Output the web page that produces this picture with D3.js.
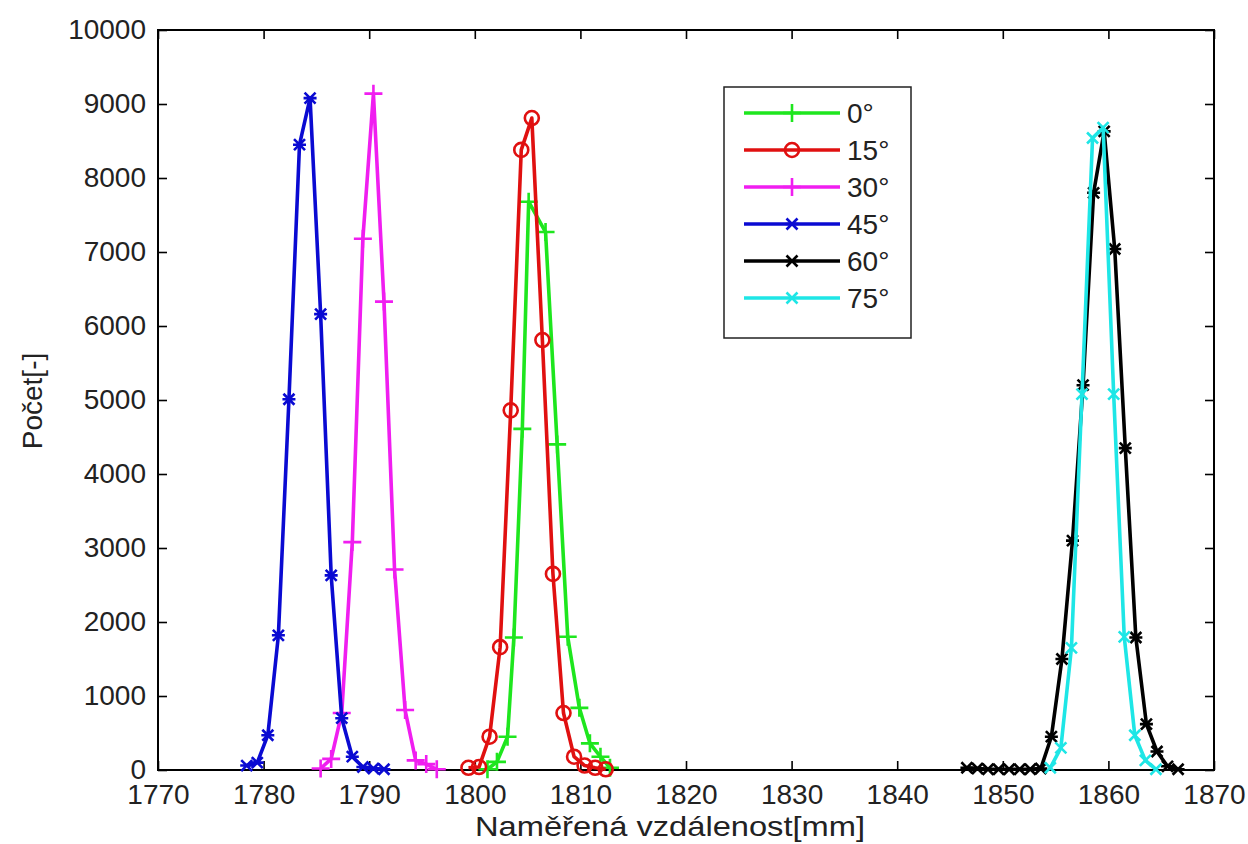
<!DOCTYPE html>
<html><head><meta charset="utf-8">
<script src="https://cdn.jsdelivr.net/npm/d3@7"></script>
<style>
html,body{margin:0;padding:0;background:#fff;}
svg{display:block;font-family:"Liberation Sans",Arial,sans-serif;}
</style></head>
<body><svg id="c" width="1248" height="844"></svg>
<script>
// ---------- data ----------
const seriesNames = ["0°","15°","30°","45°","60°","75°"];
const seriesColors = ["#1ee61e","#e01010","#f01ef0","#0a0ad2","#000000","#1ee6e6"];
const seriesMarkers = ["plus","circle","plus","star","star","x"];

const x0 = [1801.2,1802.1,1803.1,1803.7,1804.5,1805.1,1806.7,1807.8,1808.8,1809.9,1810.9,1811.9,1812.8];
const y0 = [10,110,450,1790,4610,7680,7270,4400,1800,840,360,180,30];

const x15 = [1799.4,1800.4,1801.4,1802.4,1803.4,1804.4,1805.4,1806.4,1807.4,1808.4,1809.4,1810.4,1811.4,1812.4];
const y15 = [30,40,450,1660,4860,8380,8810,5810,2650,770,180,60,30,10];

const x30 = [1785.4,1786.4,1787.4,1788.4,1789.4,1790.4,1791.4,1792.4,1793.4,1794.4,1795.4,1796.4];
const y30 = [20,150,770,3080,7180,9140,6330,2710,810,130,80,10];

const x45 = [1778.4,1779.4,1780.4,1781.4,1782.4,1783.4,1784.4,1785.4,1786.4,1787.4,1788.4,1789.4,1790.4,1791.4];
const y45 = [60,100,470,1820,5010,8450,9080,6160,2630,700,180,40,20,10];

const x60 = [1846.6,1847.6,1848.6,1849.6,1850.6,1851.6,1852.6,1853.6,1854.6,1855.6,1856.6,1857.6,1858.6,1859.6,1860.6,1861.6,1862.6,1863.6,1864.6,1865.6,1866.6];
const y60 = [30,20,10,10,10,10,10,20,450,1500,3100,5200,7800,8630,7040,4350,1790,620,250,50,10];

const x75 = [1854.5,1855.5,1856.5,1857.5,1858.5,1859.5,1860.5,1861.5,1862.5,1863.5,1864.5];
const y75 = [30,300,1650,5080,8540,8680,5080,1800,470,130,10];

const xTicks = [1770,1780,1790,1800,1810,1820,1830,1840,1850,1860,1870];
const yTicks = [0,1000,2000,3000,4000,5000,6000,7000,8000,9000,10000];
const xLabel = "Naměřená vzdálenost[mm]";
const yLabel = "Počet[-]";

const seriesX = [x0,x15,x30,x45,x60,x75];
const seriesY = [y0,y15,y30,y45,y60,y75];

// ---------- layout ----------
const L=158, R=1214, T=30, B=770;
const svg = d3.select("#c");
const x = d3.scaleLinear().domain([1770,1870]).range([L,R]);
const y = d3.scaleLinear().domain([0,10000]).range([B,T]);
const FS = 28;

svg.append("rect").attr("x",0).attr("y",0).attr("width",1248).attr("height",844).attr("fill","#fff");

// axes
function styleAxis(g, showText){
  g.select(".domain").remove();
  g.selectAll(".tick line").attr("stroke","#000").attr("stroke-width",1.6);
  g.selectAll("text").attr("font-size",FS).attr("fill","#222").attr("font-family","Liberation Sans, Arial, sans-serif");
  if(!showText) g.selectAll("text").remove();
}
svg.append("g").attr("transform",`translate(0,${B})`)
  .call(d3.axisBottom(x).tickValues(xTicks).tickFormat(d3.format("d")).tickSizeInner(-9).tickSizeOuter(0).tickPadding(14))
  .call(g=>styleAxis(g,true));
svg.append("g").attr("transform",`translate(0,${T})`)
  .call(d3.axisTop(x).tickValues(xTicks).tickSizeInner(-9).tickSizeOuter(0))
  .call(g=>styleAxis(g,false));
svg.append("g").attr("transform",`translate(${L},0)`)
  .call(d3.axisLeft(y).tickValues(yTicks).tickFormat(d3.format("d")).tickSizeInner(-9).tickSizeOuter(0).tickPadding(12))
  .call(g=>styleAxis(g,true));
svg.append("g").attr("transform",`translate(${R},0)`)
  .call(d3.axisRight(y).tickValues(yTicks).tickSizeInner(-9).tickSizeOuter(0))
  .call(g=>styleAxis(g,false));

// frame
svg.append("rect").attr("x",L).attr("y",T).attr("width",R-L).attr("height",B-T)
  .attr("fill","none").attr("stroke","#000").attr("stroke-width",2);

// axis labels
svg.append("text").attr("x",670).attr("y",836).attr("text-anchor","middle")
  .attr("font-size",FS).attr("fill","#222")
  .attr("textLength",390).attr("lengthAdjust","spacingAndGlyphs").text(xLabel);
svg.append("text").attr("transform","translate(42,401) rotate(-90)").attr("text-anchor","middle")
  .attr("font-size",FS).attr("fill","#222").text(yLabel);

// marker drawing
function drawMarker(g, type, cx, cy, color){
  const sw = 2.6;
  if(type==="plus"){
    const s=9;
    g.append("path").attr("d",`M${cx-s},${cy}H${cx+s}M${cx},${cy-s}V${cy+s}`).attr("stroke",color).attr("stroke-width",sw).attr("fill","none");
  } else if(type==="circle"){
    g.append("circle").attr("cx",cx).attr("cy",cy).attr("r",7).attr("stroke",color).attr("stroke-width",sw).attr("fill","none");
  } else if(type==="x"){
    const s=5.5;
    g.append("path").attr("d",`M${cx-s},${cy-s}L${cx+s},${cy+s}M${cx-s},${cy+s}L${cx+s},${cy-s}`).attr("stroke",color).attr("stroke-width",sw).attr("fill","none");
  } else { // star
    const s=5.5;
    g.append("path").attr("d",`M${cx-s},${cy-s}L${cx+s},${cy+s}M${cx-s},${cy+s}L${cx+s},${cy-s}M${cx-s-1},${cy}H${cx+s+1}`).attr("stroke",color).attr("stroke-width",sw).attr("fill","none");
  }
}

const line = d3.line().x(d=>x(d[0])).y(d=>y(d[1]));
const plot = svg.append("g");
seriesNames.forEach((name,i)=>{
  const pts = seriesX[i].map((v,j)=>[v,seriesY[i][j]]);
  const g = plot.append("g");
  g.append("path").datum(pts).attr("d",line).attr("fill","none")
    .attr("stroke",seriesColors[i]).attr("stroke-width",3.6).attr("stroke-linejoin","round");
  pts.forEach(p=>drawMarker(g, seriesMarkers[i], x(p[0]), y(p[1]), seriesColors[i]));
});

// legend
const lg = svg.append("g");
lg.append("rect").attr("x",724).attr("y",87).attr("width",187).attr("height",251)
  .attr("fill","#fff").attr("stroke","#222").attr("stroke-width",1.5);
const rowY = d3.scalePoint().domain(seriesNames).range([113,298]);
seriesNames.forEach((name,i)=>{
  const yy = rowY(name);
  lg.append("line").attr("x1",744).attr("x2",840).attr("y1",yy).attr("y2",yy)
    .attr("stroke",seriesColors[i]).attr("stroke-width",3.6);
  drawMarker(lg, seriesMarkers[i], 792, yy, seriesColors[i]);
  lg.append("text").attr("x",847).attr("y",yy).attr("dy","0.36em")
    .attr("font-size",FS).attr("fill","#222").text(name);
});
</script></body></html>
